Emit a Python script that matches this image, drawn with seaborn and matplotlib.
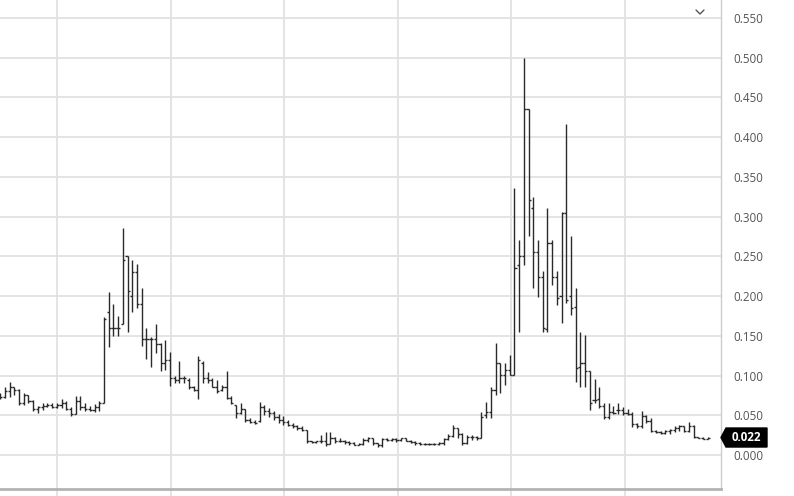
import matplotlib
matplotlib.use('Agg')
import numpy as np
import pandas as pd
import matplotlib.pyplot as plt
import seaborn as sns
from matplotlib.transforms import blended_transform_factory
from matplotlib.patches import Polygon

# === OHLC values (one bar per period) ===
opens = [0.075, 0.073, 0.080, 0.085, 0.082, 0.065, 0.075, 0.068, 0.058, 0.060,
         0.062, 0.063, 0.061, 0.063, 0.066, 0.058, 0.052, 0.068, 0.060, 0.058,
         0.057, 0.061, 0.066, 0.180, 0.160, 0.160, 0.165, 0.251, 0.200, 0.230,
         0.190, 0.146, 0.146, 0.146, 0.140, 0.116, 0.120, 0.097, 0.095, 0.097,
         0.095, 0.086, 0.082, 0.116, 0.097, 0.095, 0.086, 0.082, 0.086, 0.072,
         0.063, 0.053, 0.058, 0.044, 0.042, 0.043, 0.061, 0.055, 0.053, 0.048,
         0.044, 0.041, 0.038, 0.036, 0.034, 0.031, 0.017, 0.016, 0.017, 0.018,
         0.014, 0.022, 0.018, 0.017, 0.016, 0.015, 0.013, 0.014, 0.019, 0.021,
         0.015, 0.012, 0.020, 0.019, 0.020, 0.019, 0.021, 0.018, 0.016, 0.015,
         0.014, 0.014, 0.014, 0.014, 0.015, 0.020, 0.024, 0.034, 0.027, 0.015,
         0.023, 0.023, 0.022, 0.050, 0.054, 0.082, 0.1155, 0.101, 0.107, 0.101,
         0.239, 0.250, 0.435, 0.311, 0.256, 0.2245, 0.158, 0.2665, 0.2245, 0.200,
         0.305, 0.200, 0.186, 0.111, 0.1155, 0.106, 0.069, 0.071, 0.062, 0.048,
         0.054, 0.056, 0.056, 0.0525, 0.051, 0.039, 0.036, 0.049, 0.043, 0.0305,
         0.029, 0.028, 0.030, 0.031, 0.0345, 0.036, 0.0305, 0.036, 0.0225, 0.022,
         0.0205]
highs = [0.078, 0.086, 0.092, 0.086, 0.083, 0.078, 0.076, 0.069, 0.062, 0.066,
         0.066, 0.065, 0.066, 0.070, 0.068, 0.060, 0.074, 0.074, 0.065, 0.062,
         0.064, 0.068, 0.174, 0.205, 0.190, 0.175, 0.286, 0.251, 0.245, 0.240,
         0.210, 0.160, 0.149, 0.165, 0.141, 0.145, 0.130, 0.100, 0.118, 0.100,
         0.097, 0.087, 0.125, 0.118, 0.105, 0.097, 0.095, 0.088, 0.106, 0.074,
         0.063, 0.065, 0.058, 0.046, 0.044, 0.067, 0.063, 0.059, 0.055, 0.051,
         0.049, 0.044, 0.040, 0.038, 0.036, 0.032, 0.018, 0.018, 0.025, 0.029,
         0.029, 0.023, 0.021, 0.019, 0.017, 0.016, 0.015, 0.021, 0.023, 0.021,
         0.015, 0.022, 0.022, 0.022, 0.021, 0.022, 0.021, 0.019, 0.017, 0.016,
         0.015, 0.015, 0.015, 0.016, 0.021, 0.027, 0.038, 0.034, 0.028, 0.025,
         0.025, 0.024, 0.054, 0.067, 0.086, 0.141, 0.1155, 0.1155, 0.126, 0.336,
         0.271, 0.500, 0.435, 0.325, 0.271, 0.231, 0.311, 0.271, 0.231, 0.306,
         0.416, 0.275, 0.210, 0.155, 0.151, 0.106, 0.096, 0.085, 0.065, 0.065,
         0.062, 0.065, 0.060, 0.058, 0.0545, 0.040, 0.055, 0.050, 0.046, 0.031,
         0.030, 0.032, 0.033, 0.036, 0.038, 0.037, 0.042, 0.038, 0.023, 0.023,
         0.023]
lows = [0.070, 0.072, 0.073, 0.075, 0.063, 0.063, 0.066, 0.055, 0.053, 0.057,
        0.060, 0.059, 0.059, 0.059, 0.057, 0.049, 0.051, 0.057, 0.055, 0.055,
        0.054, 0.055, 0.066, 0.136, 0.150, 0.150, 0.165, 0.155, 0.180, 0.185,
        0.137, 0.121, 0.111, 0.128, 0.106, 0.107, 0.087, 0.090, 0.090, 0.090,
        0.083, 0.080, 0.070, 0.090, 0.090, 0.085, 0.078, 0.080, 0.070, 0.064,
        0.047, 0.052, 0.042, 0.040, 0.039, 0.042, 0.050, 0.048, 0.044, 0.040,
        0.038, 0.036, 0.034, 0.032, 0.030, 0.015, 0.015, 0.015, 0.015, 0.011,
        0.014, 0.015, 0.016, 0.014, 0.013, 0.012, 0.012, 0.012, 0.016, 0.012,
        0.010, 0.010, 0.018, 0.018, 0.016, 0.017, 0.017, 0.015, 0.013, 0.013,
        0.012, 0.013, 0.013, 0.012, 0.012, 0.019, 0.023, 0.022, 0.012, 0.014,
        0.019, 0.019, 0.021, 0.046, 0.046, 0.076, 0.078, 0.088, 0.101, 0.101,
        0.155, 0.239, 0.275, 0.210, 0.199, 0.155, 0.155, 0.214, 0.189, 0.166,
        0.191, 0.176, 0.092, 0.086, 0.085, 0.056, 0.065, 0.059, 0.045, 0.045,
        0.051, 0.052, 0.050, 0.050, 0.0356, 0.034, 0.034, 0.040, 0.029, 0.028,
        0.026, 0.026, 0.027, 0.029, 0.030, 0.029, 0.029, 0.021, 0.021, 0.020,
        0.0205]
closes = [0.073, 0.080, 0.085, 0.082, 0.065, 0.075, 0.068, 0.058, 0.060, 0.062,
          0.063, 0.061, 0.063, 0.066, 0.058, 0.052, 0.068, 0.060, 0.058, 0.057,
          0.061, 0.066, 0.171, 0.160, 0.160, 0.160, 0.246, 0.206, 0.230, 0.190,
          0.146, 0.146, 0.146, 0.140, 0.116, 0.120, 0.097, 0.095, 0.097, 0.097,
          0.086, 0.082, 0.120, 0.097, 0.095, 0.086, 0.080, 0.086, 0.072, 0.065,
          0.053, 0.058, 0.044, 0.042, 0.040, 0.061, 0.055, 0.053, 0.048, 0.044,
          0.041, 0.038, 0.036, 0.034, 0.031, 0.017, 0.016, 0.017, 0.018, 0.014,
          0.022, 0.018, 0.017, 0.016, 0.015, 0.013, 0.014, 0.019, 0.021, 0.015,
          0.012, 0.020, 0.019, 0.020, 0.019, 0.021, 0.018, 0.016, 0.015, 0.014,
          0.014, 0.014, 0.014, 0.015, 0.020, 0.024, 0.034, 0.027, 0.015, 0.023,
          0.023, 0.021, 0.048, 0.054, 0.082, 0.1155, 0.101, 0.107, 0.101, 0.235,
          0.250, 0.435, 0.321, 0.256, 0.2245, 0.1595, 0.2665, 0.2245, 0.197, 0.305,
          0.195, 0.1855, 0.110, 0.1155, 0.106, 0.065, 0.069, 0.062, 0.048, 0.054,
          0.053, 0.057, 0.0525, 0.051, 0.039, 0.036, 0.049, 0.043, 0.0305, 0.029,
          0.028, 0.030, 0.031, 0.0345, 0.036, 0.0305, 0.036, 0.0225, 0.022, 0.0205,
          0.022]

y_ticks = [0.0, 0.05, 0.10, 0.15, 0.20, 0.25, 0.30, 0.35, 0.40, 0.45, 0.50, 0.55]
x_grid = [12.0, 36.2, 60.2, 84.3, 108.3, 132.4]

df = pd.DataFrame({'open': opens, 'high': highs, 'low': lows, 'close': closes})
df['bar'] = np.arange(len(df))

sns.set_theme(style='white')
plt.rcParams['font.family'] = ['Open Sans', 'DejaVu Sans']

fig = plt.figure(figsize=(7.94, 4.96), dpi=100)
ax = fig.add_axes([0, 7 / 496, 721 / 794, 489 / 496])

bar_col = '#2a2a2a'
ax.vlines(df['bar'], df['low'], df['high'], color=bar_col, lw=1.0, zorder=3)
ax.hlines(df['open'], df['bar'] - 0.45, df['bar'], color=bar_col, lw=1.0, zorder=3)
ax.hlines(df['close'], df['bar'], df['bar'] + 0.45, color=bar_col, lw=1.0, zorder=3)

ax.set_xlim(-0.04, 152.8)
ax.set_ylim(-0.0428, 0.5726)

grid_col = '#e2e2e2'
ax.set_yticks(y_ticks)
ax.set_yticklabels([f'{v:.3f}' for v in y_ticks])
ax.set_xticks(x_grid)
ax.set_xticklabels([])
ax.grid(True, color=grid_col, lw=1.3, zorder=0)
ax.yaxis.tick_right()
ax.tick_params(axis='y', length=0, pad=8.6, labelsize=8.4, labelcolor='#555555')
ax.tick_params(axis='x', bottom=True, length=7, width=1.3, color=grid_col)

for side in ['top', 'left']:
    ax.spines[side].set_visible(False)
ax.spines['right'].set_color('#cccccc')
ax.spines['right'].set_linewidth(1.0)
ax.spines['bottom'].set_color('#b3b3b3')
ax.spines['bottom'].set_linewidth(2.0)

# chevron in the top right corner
ax.plot([696 / 721, 700 / 721, 704 / 721], [1 - 10 / 489, 1 - 14 / 489, 1 - 10 / 489],
        transform=ax.transAxes, color='#555555', lw=1.0, clip_on=False)

# last price tag
last = closes[-1]
tr = blended_transform_factory(ax.transAxes, ax.transData)
h = 9.5 / 794.3
tag = Polygon([(1.0, last), (726 / 721, last + h), (767 / 721, last + h),
               (767 / 721, last - h), (726 / 721, last - h)], closed=True,
              transform=tr, facecolor='black', edgecolor='black', clip_on=False, zorder=5)
ax.add_patch(tag)
ax.text(746.5 / 721, last, f'{last:.3f}', transform=tr, ha='center', va='center',
        color='white', fontsize=8.4, fontweight='bold', zorder=6, clip_on=False)

fig.savefig('out.png', dpi=100)
